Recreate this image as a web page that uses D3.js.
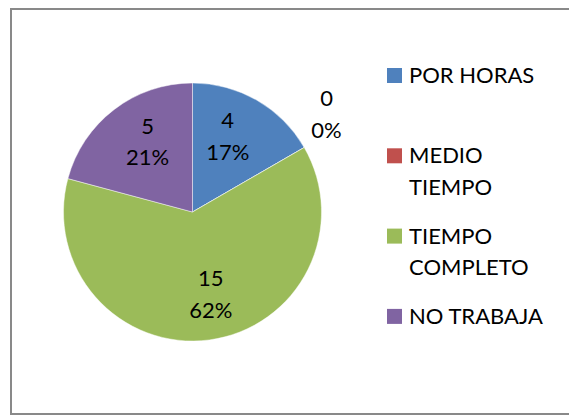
<!DOCTYPE html>
<html>
<head>
<meta charset="utf-8">
<script src="https://cdn.jsdelivr.net/npm/d3@7.9.0/dist/d3.min.js"></script>
<style>
  html, body { margin: 0; padding: 0; background: #fff; }
  svg { display: block; font-family: Lato, "Liberation Sans", sans-serif; }
</style>
</head>
<body>
<div id="chart"></div>
<script>
// categories, values and colours
const categories = ['POR HORAS', 'MEDIO TIEMPO', 'TIEMPO COMPLETO', 'NO TRABAJA'];
const legendLines = [['POR HORAS'], ['MEDIO', 'TIEMPO'], ['TIEMPO', 'COMPLETO'], ['NO TRABAJA']];
const values = [4, 0, 15, 5];
const percents = ['17%', '0%', '62%', '21%'];
const colors = ['#4F81BD', '#C0504D', '#9BBB59', '#8064A2'];

const width = 569;
const height = 417;
const cx = 192.5, cy = 212, radius = 129;
const fontSize = 22;
const lineStep = 31.5;

const svg = d3.select('#chart')
    .append('svg')
    .attr('width', width)
    .attr('height', height);

// chart frame
svg.append('rect')
    .attr('x', 11)
    .attr('y', 9)
    .attr('width', 580)
    .attr('height', 405)
    .attr('fill', '#fff')
    .attr('stroke', '#898989')
    .attr('stroke-width', 2);

const data = categories.map((c, i) => ({ name: c, value: values[i], pct: percents[i], color: colors[i] }));

const pie = d3.pie()
    .sort(null)
    .value(d => d.value);

const arcs = pie(data);

const arc = d3.arc().innerRadius(0).outerRadius(radius);
const outerArc = d3.arc().innerRadius(radius * 1.2).outerRadius(radius * 1.2);

// inside labels are turned a bit off the slice middle (right half ccw, left half cw), like Excel
const labelR = radius * 0.65;
function insidePos(d) {
    const mid = (d.startAngle + d.endAngle) / 2;
    const a = mid - 0.09 * Math.sign(Math.sin(mid));
    return [labelR * Math.sin(a), -labelR * Math.cos(a)];
}

const g = svg.append('g').attr('transform', `translate(${cx},${cy})`);

g.selectAll('path')
    .data(arcs)
    .join('path')
    .attr('d', arc)
    .attr('fill', d => d.data.color)
    .attr('stroke', '#fff')
    .attr('stroke-opacity', 0.6)
    .attr('stroke-width', 0.75);

// data labels: value and percentage on two lines
const labels = g.selectAll('text.label')
    .data(arcs)
    .join('text')
    .attr('class', 'label')
    .attr('text-anchor', 'middle')
    .attr('font-size', fontSize)
    .attr('fill', '#000')
    .attr('transform', d => {
        let [x, y] = d.value === 0 ? outerArc.centroid(d) : insidePos(d);
        if (d.value === 0) y -= 21; // outside label sits above its anchor
        return `translate(${x},${y})`;
    });

labels.append('tspan')
    .attr('x', 0)
    .attr('y', -7.5)
    .text(d => d.data.value);

labels.append('tspan')
    .attr('x', 0)
    .attr('y', -7.5 + lineStep)
    .text(d => d.data.pct);

// legend
const legendX = 387;
const legendTop = 83;
const itemStep = 80.3;

const legend = svg.append('g').attr('class', 'legend');
const items = legend.selectAll('g')
    .data(data)
    .join('g')
    .attr('transform', (d, i) => `translate(${legendX},${legendTop + i * itemStep})`);

items.append('rect')
    .attr('x', 0)
    .attr('y', -15)
    .attr('width', 15)
    .attr('height', 15)
    .attr('fill', d => d.color);

items.append('text')
    .attr('font-size', fontSize)
    .attr('fill', '#000')
    .selectAll('tspan')
    .data((d, i) => legendLines[i])
    .join('tspan')
    .attr('x', 22)
    .attr('y', (d, j) => j * lineStep)
    .text(d => d);
</script>
</body>
</html>
